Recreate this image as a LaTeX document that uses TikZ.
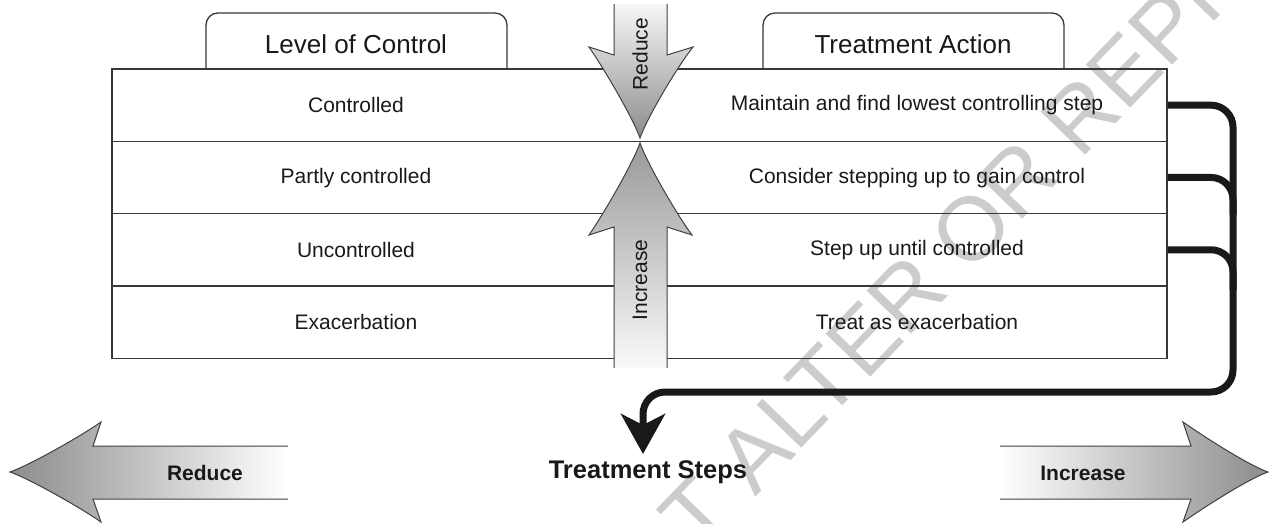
\documentclass[tikz,border=0pt]{standalone}
\usepackage{fontspec}
\setmainfont{Liberation Sans}
\usetikzlibrary{arrows.meta}
\begin{document}
\begin{tikzpicture}[x=1pt,y=-1pt,
  tline/.style={draw=black!78, line width=1.3pt},
  rowbox/.style={tline, rectangle, minimum width=1055pt, minimum height=72.3pt, inner sep=0pt},
  rowtext/.style={font=\fontsize{21}{25}\selectfont, text=black!90, inner sep=0pt},
  tabtext/.style={font=\fontsize{26}{30}\selectfont, text=black!90, inner sep=0pt},
  arrowline/.style={draw=black!75, line width=1pt},
  arrowtext/.style={font=\fontsize{21}{25}\selectfont, text=black!90, inner sep=0pt},
  boldtext/.style={font=\bfseries\fontsize{21}{25}\selectfont, text=black!90, inner sep=0pt},
  bracket/.style={draw=black!90, line width=7pt, rounded corners=22pt},
  watermark/.style={font=\fontsize{90}{90}\selectfont, text=black!20, inner sep=0pt}
]
\useasboundingbox (0,0) rectangle (1270,523);

% watermark
\begin{scope}
\clip (0,0) rectangle (1270,523);
\node[watermark, rotate=46] (wm) at (965,235) {DO NOT ALTER OR REPRODUCE};
\end{scope}

% tabs
\draw[tline, rounded corners=12pt] (206,69) -- (206,13) -- (507,13) -- (507,69);
\draw[tline, rounded corners=12pt] (763,69) -- (763,13) -- (1064,13) -- (1064,69);
\node[tabtext] (tab1) at (356,44) {Level of Control};
\node[tabtext] (tab2) at (913,44) {Treatment Action};

% rows
\node[rowbox] (r1) at (639.5,105.15) {};
\node[rowbox] (r2) at (639.5,177.45) {};
\node[rowbox] (r3) at (639.5,249.75) {};
\node[rowbox] (r4) at (639.5,322.05) {};

\node[rowtext] (l1) at (356,105) {Controlled};
\node[rowtext] (l2) at (356,178) {Partly controlled};
\node[rowtext] (l3) at (356,250) {Uncontrolled};
\node[rowtext] (l4) at (356,322) {Exacerbation};

\node[rowtext] (a1) at (917,105) {Maintain and find lowest controlling step};
\node[rowtext] (a2) at (917,178) {Consider stepping up to gain control};
\node[rowtext] (a3) at (917,250) {Step up until controlled};
\node[rowtext] (a4) at (917,322) {Treat as exacerbation};

% vertical Reduce arrow (down)
\path[top color=black!3, bottom color=black!45]
  (614,4) -- (614,55) -- (589,47) .. controls (603,67) and (633,118) .. (640,138)
  .. controls (647,118) and (677,67) .. (693,47) -- (667,55) -- (667,4) -- cycle;
\draw[arrowline]
  (614,4) -- (614,55) -- (589,47) .. controls (603,67) and (633,118) .. (640,138)
  .. controls (647,118) and (677,67) .. (693,47) -- (667,55) -- (667,4);
\node[arrowtext, rotate=90] (vred) at (640,54) {Reduce};

% vertical Increase arrow (up)
\path[top color=black!40, bottom color=black!2]
  (614,368) -- (614,227) -- (589,235) .. controls (603,215) and (633,163) .. (640,143)
  .. controls (647,163) and (677,215) .. (692,235) -- (667,227) -- (667,368) -- cycle;
\draw[arrowline]
  (614,368) -- (614,227) -- (589,235) .. controls (603,215) and (633,163) .. (640,143)
  .. controls (647,163) and (677,215) .. (692,235) -- (667,227) -- (667,368);
\node[arrowtext, rotate=90] (vinc) at (640,280) {Increase};

% horizontal Reduce arrow (left)
\path[left color=black!45, right color=white]
  (288,446) -- (93,446) -- (101,422) .. controls (81,436) and (30,465) .. (10,472)
  .. controls (30,479) and (81,508) .. (101,522) -- (93,499) -- (288,499) -- cycle;
\draw[arrowline]
  (288,446) -- (93,446) -- (101,422) .. controls (81,436) and (30,465) .. (10,472)
  .. controls (30,479) and (81,508) .. (101,522) -- (93,499) -- (288,499);
\node[boldtext] (hred) at (205,473) {Reduce};

% horizontal Increase arrow (right)
\path[left color=white, right color=black!45]
  (1000,446) -- (1191,446) -- (1183,422) .. controls (1203,436) and (1248,465) .. (1268,472)
  .. controls (1248,479) and (1203,508) .. (1183,522) -- (1191,499) -- (1000,499) -- cycle;
\draw[arrowline]
  (1000,446) -- (1191,446) -- (1183,422) .. controls (1203,436) and (1248,465) .. (1268,472)
  .. controls (1248,479) and (1203,508) .. (1183,522) -- (1191,499) -- (1000,499);
\node[boldtext] (hinc) at (1083,473) {Increase};

% treatment steps
\node[font=\bfseries\fontsize{25.5}{30}\selectfont, text=black!90, inner sep=0pt] (steps) at (648,472) {Treatment Steps};
\coordinate (tip) at (643,454);

% bracket connector
\draw[bracket] (r2.east) -- (1233,177.45) -- (1233,215);
\draw[bracket] (r3.east) -- (1233,249.75) -- (1233,290);
\draw[bracket, -{Stealth[length=40pt,width=44pt,inset=11pt]}]
  (r1.east) -- (1233,105.15) -- (1233,392) -- (643,392) -- (tip);
\end{tikzpicture}
\end{document}
